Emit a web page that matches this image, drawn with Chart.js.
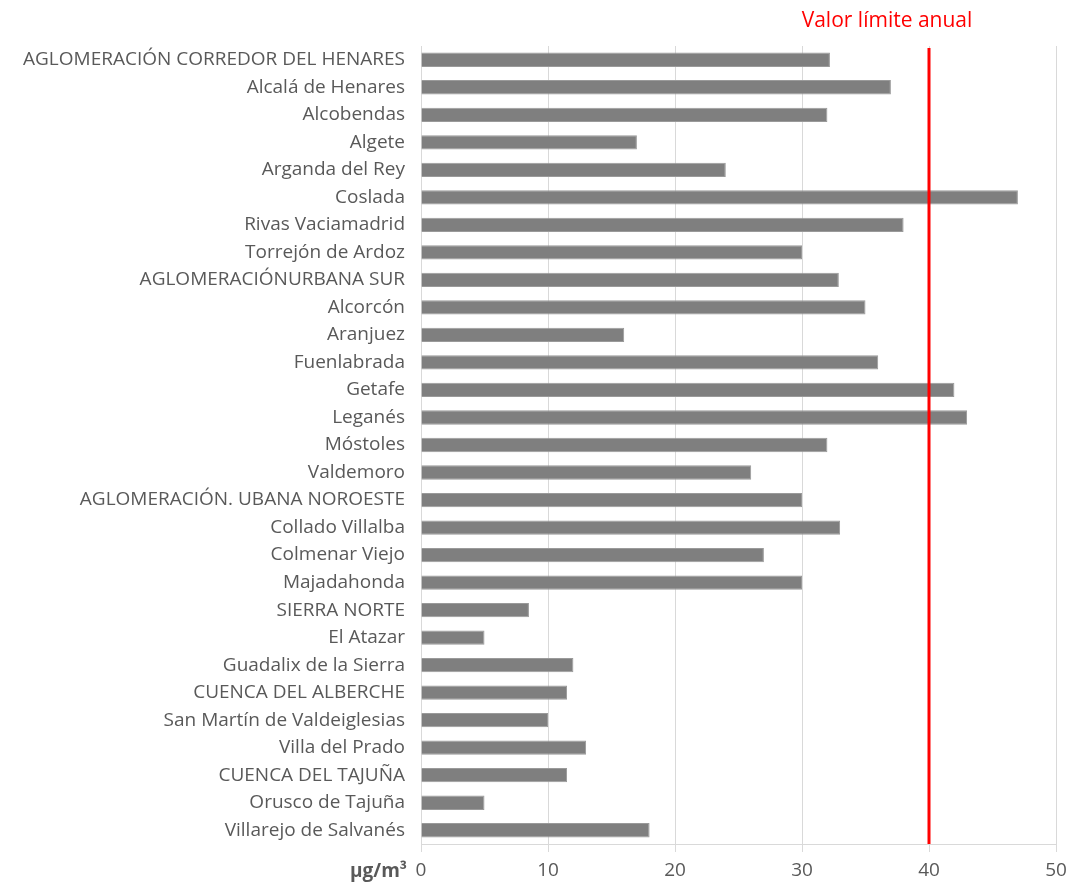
<!DOCTYPE html>
<html>
<head>
<meta charset="utf-8">
<script src="https://cdn.jsdelivr.net/npm/chart.js@4/dist/chart.umd.min.js"></script>
<style>
  html, body { margin: 0; padding: 0; background: #fff; }
  #wrap { width: 1071px; height: 884px; }
</style>
</head>
<body>
<div id="wrap"><canvas id="chart"></canvas></div>
<script>
// Estaciones / zonas
const estaciones = [
  'AGLOMERACIÓN CORREDOR DEL HENARES',
  'Alcalá de Henares',
  'Alcobendas',
  'Algete',
  'Arganda del Rey',
  'Coslada',
  'Rivas Vaciamadrid',
  'Torrejón de Ardoz',
  'AGLOMERACIÓNURBANA SUR',
  'Alcorcón',
  'Aranjuez',
  'Fuenlabrada',
  'Getafe',
  'Leganés',
  'Móstoles',
  'Valdemoro',
  'AGLOMERACIÓN. UBANA NOROESTE',
  'Collado Villalba',
  'Colmenar Viejo',
  'Majadahonda',
  'SIERRA NORTE',
  'El Atazar',
  'Guadalix de la Sierra',
  'CUENCA DEL ALBERCHE',
  'San Martín de Valdeiglesias',
  'Villa del Prado',
  'CUENCA DEL TAJUÑA',
  'Orusco de Tajuña',
  'Villarejo de Salvanés',
];

// Media anual (µg/m³)
const mediaAnual = [
  32.2, 37, 32, 17, 24, 47, 38, 30,
  32.9, 35, 16, 36, 42, 43, 32, 26,
  30, 33, 27, 30,
  8.5, 5, 12,
  11.5, 10, 13,
  11.5, 5, 18,
];

const xTicks = [0, 10, 20, 30, 40, 50];
const valorLimite = 40;
const textoLimite = 'Valor límite anual';
const unidad = 'µg/m³';

const FONT = '"Open Sans", "DejaVu Sans", sans-serif';
const GRIS_TEXTO = '#595959';

// línea roja del valor límite + texto de unidad
const limitePlugin = {
  id: 'limite',
  afterDatasetsDraw(chart) {
    const { ctx, chartArea, scales } = chart;
    const x = scales.x.getPixelForValue(valorLimite);
    ctx.save();
    ctx.strokeStyle = '#ff0000';
    ctx.lineWidth = 3;
    ctx.beginPath();
    ctx.moveTo(x, chartArea.top + 2);
    ctx.lineTo(x, chartArea.bottom);
    ctx.stroke();

    ctx.fillStyle = '#ff0000';
    ctx.font = '21px ' + FONT;
    ctx.textAlign = 'center';
    ctx.textBaseline = 'middle';
    ctx.fillText(textoLimite, x - 42, 21);

    ctx.fillStyle = GRIS_TEXTO;
    ctx.font = 'bold 19px ' + FONT;
    ctx.textAlign = 'right';
    ctx.fillText(unidad, chartArea.left - 14, 872);
    ctx.restore();
  },
};

new Chart(document.getElementById('chart'), {
  type: 'bar',
  data: {
    labels: estaciones,
    datasets: [{
      data: mediaAnual,
      backgroundColor: '#7f7f7f',
      borderColor: '#9a9a9a',
      borderWidth: 1,
      barPercentage: 0.52,
      categoryPercentage: 1,
    }],
  },
  plugins: [limitePlugin],
  options: {
    indexAxis: 'y',
    responsive: true,
    maintainAspectRatio: false,
    animation: false,
    layout: { padding: { top: 46, right: 15, left: 0, bottom: 0 } },
    plugins: {
      legend: { display: false },
      tooltip: { enabled: false },
    },
    scales: {
      x: {
        min: 0,
        max: 50,
        afterBuildTicks: s => { s.ticks = xTicks.map(v => ({ value: v })); },
        afterFit: s => { s.height = 40; s.paddingLeft = 0; s.paddingRight = 0; },
        grid: { color: '#d9d9d9', tickLength: 8, tickColor: '#d9d9d9' },
        border: { color: '#d9d9d9' },
        ticks: { color: GRIS_TEXTO, font: { family: FONT, size: 19 }, padding: 7 },
      },
      y: {
        afterFit: s => { s.width = 421; },
        grid: { display: false, drawTicks: false },
        border: { display: false },
        ticks: { color: GRIS_TEXTO, font: { family: FONT, size: 19 }, padding: 16, autoSkip: false },
      },
    },
  },
});
</script>
</body>
</html>
